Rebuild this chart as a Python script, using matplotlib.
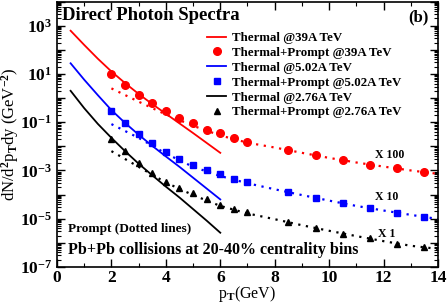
import numpy as np
import matplotlib
matplotlib.use("Agg")
import matplotlib.pyplot as plt
from matplotlib.ticker import FixedLocator, LogLocator, NullFormatter

plt.rcParams['font.family'] = ['Liberation Serif', 'DejaVu Serif']
plt.rcParams['font.weight'] = 'bold'
plt.rcParams['mathtext.fontset'] = 'custom'
plt.rcParams['mathtext.rm'] = 'Liberation Serif:bold'
plt.rcParams['mathtext.it'] = 'Liberation Serif:bold:italic'
plt.rcParams['mathtext.bf'] = 'Liberation Serif:bold'
plt.rcParams['mathtext.default'] = 'rm'

# thermal curves (log10 of yield), pT 0.5..6
pt_th = [0.5, 1.0, 1.5, 2.0, 2.5, 3.0, 3.5, 4.0, 4.5, 5.0, 5.5, 6.0]
th_39 = [2.79, 2.20, 1.63, 1.10, 0.62, 0.17, -0.25, -0.65, -1.05, -1.45, -1.86, -2.27]
th_502 = [1.44, 0.76, 0.12, -0.50, -1.03, -1.52, -1.98, -2.42, -2.85, -3.30, -3.75, -4.20]
th_276 = [0.30, -0.42, -1.07, -1.65, -2.20, -2.72, -3.20, -3.67, -4.12, -4.60, -5.08, -5.58]

# prompt (dotted) curves, pT 2..14
pt_pr = [2, 3, 4, 5, 6, 7, 8, 9, 10, 11, 12, 13, 14]
pr_39 = [0.40, -0.15, -0.68, -1.15, -1.55, -1.85, -2.05, -2.27, -2.48, -2.67, -2.84, -3.00, -3.14]
pr_502 = [-1.08, -1.65, -2.30, -2.85, -3.23, -3.53, -3.78, -4.02, -4.25, -4.47, -4.66, -4.84, -5.01]
pr_276 = [-2.20, -2.85, -3.50, -4.02, -4.47, -4.78, -5.02, -5.27, -5.50, -5.72, -5.93, -6.12, -6.25]

# thermal + prompt points
pt_pts = [2.0, 2.5, 3.0, 3.5, 4.0, 4.5, 5.0, 5.5, 6.0, 6.5, 7.0, 8.5, 9.5, 10.5, 11.5, 12.5, 13.5]
tp_39 = [0.98, 0.54, 0.14, -0.22, -0.52, -0.82, -1.05, -1.31, -1.45, -1.65, -1.81,
         -2.15, -2.38, -2.57, -2.77, -2.91, -3.08]
tp_502 = [-0.54, -1.02, -1.49, -1.87, -2.22, -2.51, -2.77, -3.00, -3.16, -3.35, -3.49,
          -3.90, -4.15, -4.36, -4.57, -4.75, -4.92]
tp_276 = [-1.69, -2.20, -2.70, -3.12, -3.47, -3.74, -3.95, -4.20, -4.43, -4.61, -4.73,
          -5.12, -5.40, -5.63, -5.81, -6.05, -6.18]


def p10(v):
    return 10.0 ** np.array(v)


fig = plt.figure(figsize=(4.47, 3.05), dpi=100)
ax = fig.add_axes([57 / 447, 38 / 305, 381 / 447, 265.5 / 305])

dot = (0, (1, 2.5))
ax.plot(pt_th, p10(th_39), color='red', lw=1.3, label='Thermal @39A TeV')
ax.plot(pt_pts, p10(tp_39), 'o', color='red', ms=5.5, label='Thermal+Prompt @39A TeV')
ax.plot(pt_th, p10(th_502), color='blue', lw=1.3, label='Thermal @5.02A TeV')
ax.plot(pt_pts, p10(tp_502), 's', color='blue', ms=4.5, label='Thermal+Prompt @5.02A TeV')
ax.plot(pt_th, p10(th_276), color='black', lw=1.3, label='Thermal @2.76A TeV')
ax.plot(pt_pts, p10(tp_276), '^', color='black', ms=5, label='Thermal+Prompt @2.76A TeV')

ax.plot(pt_pr, p10(pr_39), color='red', lw=1.6, ls=dot)
ax.plot(pt_pr, p10(pr_502), color='blue', lw=1.6, ls=dot)
ax.plot(pt_pr, p10(pr_276), color='black', lw=1.6, ls=dot)

ax.set_yscale('log')
ax.set_xlim(0, 14)
ax.set_ylim(1e-7, 1e4)

ax.xaxis.set_major_locator(FixedLocator([0, 2, 4, 6, 8, 10, 12, 14]))
ax.xaxis.set_minor_locator(FixedLocator([1, 3, 5, 7, 9, 11, 13]))
ax.yaxis.set_major_locator(FixedLocator([10.0 ** k for k in range(-7, 5)]))
ax.yaxis.set_minor_locator(LogLocator(base=10, subs=np.arange(2, 10), numticks=30))
ax.yaxis.set_minor_formatter(NullFormatter())
ylabs = ['10$^{%d}$' % k if (k + 7) % 2 == 0 else '' for k in range(-7, 5)]
ax.set_yticklabels(ylabs)

ax.tick_params(which='both', direction='in', top=True, right=True, labelsize=12.5)
ax.tick_params(which='major', length=6, width=1)
ax.tick_params(which='minor', length=3, width=0.8)
ax.tick_params(axis='x', pad=2)
for s in ax.spines.values():
    s.set_linewidth(1.2)

ax.set_xlabel('p$_T$(GeV)', fontsize=11.5, labelpad=-1)
ax.set_ylabel('dN/d$^2$p$_T$dy (GeV$^{-2}$)', fontsize=12, labelpad=-1)

ax.text(0.012, 0.978, 'Direct Photon Spectra', transform=ax.transAxes, fontsize=13.5,
        ha='left', va='top')
ax.text(0.975, 0.972, '(b)', transform=ax.transAxes, fontsize=12, ha='right', va='top')
ax.text(0.03, 0.145, 'Prompt (Dotted lines)', transform=ax.transAxes, fontsize=9.5,
        ha='left', va='center')
ax.text(0.03, 0.065, 'Pb+Pb collisions at 20-40% centrality bins', transform=ax.transAxes,
        fontsize=11.5, ha='left', va='center')
ax.text(11.7, 10 ** -2.35, 'X 100', fontsize=8.5, ha='left', va='center')
ax.text(11.7, 10 ** -4.1, 'X 10', fontsize=8.5, ha='left', va='center')
ax.text(11.8, 10 ** -5.62, 'X 1', fontsize=8.5, ha='left', va='center')

ax.legend(loc='upper left', bbox_to_anchor=(0.395, 0.885), frameon=False, fontsize=9.3,
          handlelength=1.4, handletextpad=0.5, labelspacing=0.22, borderaxespad=0,
          borderpad=0, numpoints=1)

fig.savefig('out.png', dpi=100)
